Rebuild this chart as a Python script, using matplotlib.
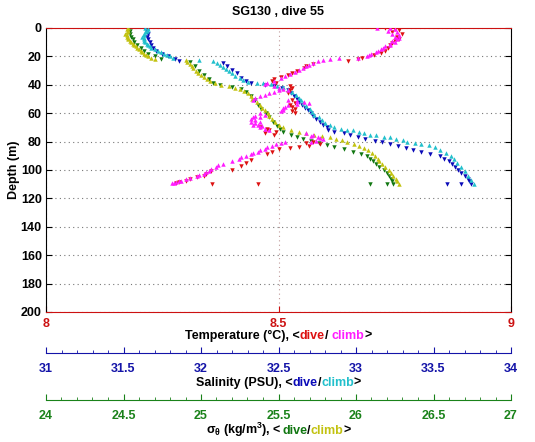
"""Seaglider profile plot: temperature, salinity and sigma-theta vs depth."""

import matplotlib
matplotlib.use("Agg")
import matplotlib.pyplot as plt
from matplotlib.ticker import MultipleLocator
from matplotlib.offsetbox import TextArea, HPacker, AnchoredOffsetbox

# ---------------- DATA ----------------
TITLE = "SG130 , dive 55"

temp_ticks = [8, 8.5, 9]
temp_ticklabels = ["8", "8.5", "9"]
depth_ticks = list(range(0, 201, 20))

# temperature, dive (red)
dive_t_depth = [0, 0.5, 1.5, 3, 4.5, 6, 7.5, 9, 10.5, 12, 14, 16, 17.5, 19, 21, 22, 23,
                25, 26.5, 28, 30, 31.5, 33, 34.5, 36, 37.5, 38.5, 41, 42.5, 44, 45.5,
                51, 52.5, 54, 55.5, 57, 58.5, 60, 70, 71, 72, 73, 74, 75,
                80, 81, 82, 83, 84, 84.5, 85.5, 87, 88.5, 93, 95, 97, 100,
                101, 102.5, 104, 105, 106.5, 107.5, 108.5, 109.5, 110, 110]
dive_t = [8.73, 8.75, 8.76, 8.745, 8.765, 8.755, 8.76, 8.75, 8.745, 8.74, 8.735, 8.73, 8.72, 8.705, 8.68, 8.67, 8.65,
          8.575, 8.56, 8.555, 8.54, 8.53, 8.52, 8.505, 8.49, 8.485, 8.495, 8.525, 8.53, 8.525, 8.52,
          8.53, 8.535, 8.525, 8.53, 8.535, 8.53, 8.535, 8.46, 8.475, 8.48, 8.495, 8.47, 8.49,
          8.575, 8.56, 8.59, 8.565, 8.545, 8.525, 8.50, 8.485, 8.475, 8.44, 8.43, 8.42, 8.40,
          8.355, 8.345, 8.34, 8.325, 8.31, 8.30, 8.285, 8.28, 8.357, 8.456]

# temperature, climb (magenta)
climb_t_depth = [0, 0, 1, 2, 3, 4, 5, 6, 7, 8, 9, 10, 11, 12, 13, 14, 15, 16, 17, 18, 19, 20, 21, 21, 22,
                 22.5, 23.5, 24.5, 26, 27, 28, 29.5, 31, 32.5, 34, 35.5, 37, 38.5, 39.5, 40.5, 42, 43.5,
                 43, 44, 45, 46, 47, 48, 49.5, 50.5,
                 51, 51.5, 52, 52.5, 53.5, 54.5, 55.5, 56.5, 57.5, 58.5,
                 60, 61, 62, 62.5, 63, 64, 65, 66, 66.5, 67, 68, 68.5, 69, 70, 71, 72,
                 74, 75, 76, 76.5, 77.5, 78.5, 79.5, 80.5,
                 80, 81, 82, 83, 84, 85, 86, 87, 88, 89, 90, 91, 92, 93.5, 95.5, 96.5, 98, 99.5,
                 100.5, 101.5, 102.5, 103.5, 104.5, 105.5, 106.5, 107.5, 108, 108.5, 109, 109.5]
climb_t = [8.712, 8.74, 8.75, 8.735, 8.755, 8.745, 8.76, 8.75, 8.76, 8.755, 8.745, 8.75, 8.74, 8.74, 8.73,
           8.725, 8.72, 8.715, 8.71, 8.70, 8.695, 8.69, 8.67, 8.63, 8.61,
           8.596, 8.585, 8.574, 8.565, 8.56, 8.553, 8.545, 8.535, 8.525, 8.515, 8.505, 8.49, 8.475, 8.47, 8.49, 8.50, 8.52,
           8.51, 8.50, 8.49, 8.48, 8.47, 8.46, 8.45, 8.445,
           8.52, 8.54, 8.555, 8.565, 8.54, 8.52, 8.515, 8.51, 8.51, 8.505,
           8.46, 8.47, 8.45, 8.46, 8.445, 8.44, 8.45, 8.46, 8.44, 8.45, 8.455, 8.445, 8.465, 8.46, 8.47, 8.48,
           8.56, 8.575, 8.57, 8.585, 8.59, 8.595, 8.58, 8.57,
           8.515, 8.505, 8.495, 8.485, 8.475, 8.47, 8.46, 8.455, 8.445, 8.44, 8.43, 8.42, 8.415, 8.40, 8.38, 8.37,
           8.365, 8.355, 8.35, 8.345, 8.34, 8.33, 8.325, 8.31, 8.30, 8.29, 8.285, 8.28, 8.27, 8.275]

# salinity, dive (blue)
dive_s_depth = [0, 2, 4, 6, 8, 10, 12, 14, 16, 18, 20, 22, 23,
                24.5, 27, 29.5, 32, 35, 37, 38.5, 40, 41, 42.5, 44, 46, 48, 50, 52, 54, 56, 58, 60,
                62, 64, 66, 68, 70, 72, 73, 74, 75, 76.5, 78, 79.5, 80.5, 81.5, 83, 84.5, 86,
                87.5, 88.5, 90, 92, 94, 96, 98, 100, 102, 104, 106, 108, 110, 110, 110]
dive_s = [31.64, 31.65, 31.66, 31.65, 31.66, 31.67, 31.68, 31.69, 31.71, 31.75, 31.79, 31.83, 31.86,
          32.14, 32.17, 32.20, 32.23, 32.26, 32.29, 32.32, 32.41, 32.47, 32.52, 32.56, 32.58, 32.60,
          32.62, 32.635, 32.65, 32.67, 32.69, 32.71,
          32.72, 32.74, 32.77, 32.79, 32.81, 32.82, 32.86, 32.92, 32.96, 33.01, 33.06, 33.12, 33.17,
          33.22, 33.27, 33.32, 33.37,
          33.42, 33.48, 33.54, 33.57, 33.60, 33.62, 33.64, 33.66, 33.68, 33.70, 33.72, 33.73, 33.74,
          33.59, 33.68]

# salinity, climb (cyan)
climb_s_depth = [0, 1, 2, 3, 4, 5, 6, 7, 8, 9, 10, 11, 12, 13, 14, 15, 16, 17, 18, 19, 20, 21,
                 22.5, 23, 24.5, 26, 27.5, 29, 30.5, 32, 33.5, 35, 36.5, 38, 38.5, 39, 39.5, 40.5,
                 41.5, 43, 45, 47, 49, 51, 53, 55, 57, 59, 61, 63, 65, 67, 68.5,
                 70, 71, 71.5, 72, 73, 74, 75, 75.5, 76.5, 77, 78, 79, 80, 81, 81.5, 82.5, 84,
                 86, 88, 90, 92, 95, 98, 101, 104, 107, 110]
climb_s = [31.64, 31.66, 31.65, 31.64, 31.63, 31.63, 31.62, 31.63, 31.63, 31.63, 31.64, 31.65,
           31.66, 31.67, 31.68, 31.70, 31.72, 31.74, 31.76, 31.78, 31.80, 31.82,
           31.99, 32.08, 32.10, 32.12, 32.14, 32.16, 32.18, 32.20, 32.22, 32.25, 32.27, 32.30,
           32.36, 32.40, 32.45, 32.49,
           32.53, 32.56, 32.59, 32.61, 32.63, 32.645, 32.66, 32.68, 32.70, 32.715, 32.73, 32.76,
           32.78, 32.80, 32.83,
           32.86, 32.90, 32.94, 32.98, 33.02, 33.05, 33.09, 33.13, 33.18, 33.22, 33.26, 33.30,
           33.33, 33.38, 33.42, 33.47, 33.51,
           33.54, 33.58, 33.61, 33.63, 33.65, 33.68, 33.70, 33.72, 33.74, 33.76]

# sigma-theta, dive (green)
dive_sig_depth = [0, 2, 4, 6, 8, 10, 12, 14, 16, 18, 20, 21.5,
                  24, 27, 30, 33, 36, 38.5, 40, 41.5, 43, 45, 48, 51, 54, 57, 60, 63, 66, 69,
                  71, 73, 75, 76.5, 78, 79.5, 81, 82.5, 84, 85.5, 87, 88.5, 90, 92, 94, 96, 98,
                  100, 102, 104, 106, 108, 110, 110, 110]
dive_sig = [24.53, 24.54, 24.54, 24.55, 24.56, 24.57, 24.59, 24.61, 24.63, 24.66, 24.70, 24.74,
            24.93, 24.96, 24.99, 25.02, 25.05, 25.08, 25.12, 25.20, 25.26, 25.29, 25.32, 25.35,
            25.37, 25.39, 25.42, 25.44, 25.465, 25.49,
            25.51, 25.53, 25.58, 25.62, 25.66, 25.71, 25.76, 25.81, 25.86, 25.92, 25.98, 26.03,
            26.07, 26.09, 26.11, 26.13, 26.15,
            26.18, 26.20, 26.21, 26.225, 26.235, 26.24, 26.09, 26.20]

# sigma-theta, climb (olive)
climb_sig_depth = [0, 1, 2, 3, 4, 5, 6, 7, 8, 9, 10, 11, 12, 13, 14, 15, 16, 17, 18, 19, 20, 21, 21.5,
                   22.5, 24, 25.5, 27, 28.5, 30, 31.5, 33, 34.5, 36, 37.5, 39, 40, 41, 42, 43, 44.5,
                   46, 48, 50, 52, 54, 56, 58, 60, 62, 64, 66, 68, 70, 72, 73, 74, 75, 76, 77, 78,
                   79, 80, 81.5, 83, 84.5, 86, 88, 90, 92, 94, 96, 98, 100, 102, 104, 106, 108, 110]
climb_sig = [24.53, 24.52, 24.53, 24.52, 24.51, 24.52, 24.52, 24.53, 24.53, 24.54, 24.55, 24.56,
             24.57, 24.58, 24.59, 24.60, 24.61, 24.62, 24.63, 24.645, 24.66, 24.68, 24.70,
             24.90, 24.91, 24.93, 24.94, 24.95, 24.97, 24.98, 25.00, 25.02, 25.04, 25.06, 25.09,
             25.13, 25.18, 25.22, 25.25, 25.28,
             25.30, 25.32, 25.33, 25.36, 25.38, 25.395, 25.41, 25.43, 25.44, 25.46, 25.48, 25.50,
             25.53, 25.58, 25.63, 25.68, 25.73, 25.78, 25.83, 25.87,
             25.91, 25.94, 25.99, 26.02, 26.05, 26.08, 26.10, 26.12, 26.14, 26.15, 26.17, 26.19,
             26.21, 26.225, 26.24, 26.255, 26.265, 26.275]
# ---------------------------------------------------------------

# ---------------- STYLE ----------------
FONT = "Liberation Sans"
FS = 9
RED, MAGENTA = "#dd1111", "#ff1cff"
BLUE, CYAN = "#0a0ab8", "#22c0cc"
GREEN, OLIVE = "#117711", "#c2c210"
AX_RED, AX_BLUE, AX_GREEN = "#cc1111", "#1414a8", "#1a821a"

plt.rcParams["font.family"] = [FONT, "DejaVu Sans"]
plt.rcParams["font.weight"] = "bold"
plt.rcParams["mathtext.fontset"] = "custom"
plt.rcParams["mathtext.rm"] = "Liberation Sans:bold"
plt.rcParams["mathtext.it"] = "Liberation Sans:bold"
plt.rcParams["mathtext.bf"] = "Liberation Sans:bold"

W, H = 535, 442
L, R, T, B = 46, 511, 28, 312


def color_label(fig, y, parts):
    """Centered label made of differently coloured pieces."""
    boxes = [TextArea(s, textprops=dict(color=c, fontsize=FS, fontweight="bold"))
             for s, c in parts]
    pack = HPacker(children=boxes, align="baseline", pad=0, sep=0)
    xc = (L + R) / 2 / W
    ab = AnchoredOffsetbox(loc="center", child=pack, frameon=False, pad=0, borderpad=0,
                           bbox_to_anchor=(xc, 1 - y / H), bbox_transform=fig.transFigure)
    fig.add_artist(ab)


def bottom_ruler(ax, lim, color, offset_px):
    """Twin x-axis shown as a coloured ruler below the main axes."""
    tw = ax.twiny()
    tw.set_xlim(*lim)
    tw.xaxis.set_ticks_position("bottom")
    tw.xaxis.set_label_position("bottom")
    for name, sp in tw.spines.items():
        sp.set_visible(name == "bottom")
    tw.spines["bottom"].set_position(("outward", offset_px * 72 / 100))
    tw.spines["bottom"].set_color(color)
    tw.xaxis.set_major_locator(MultipleLocator(0.5))
    tw.xaxis.set_minor_locator(MultipleLocator(0.1))
    tw.xaxis.set_major_formatter(plt.FuncFormatter(lambda v, p: f"{v:g}"))
    tw.tick_params(axis="x", which="major", direction="in", length=4, color=color,
                   labelcolor=color, labelsize=FS, pad=7.5)
    tw.tick_params(axis="x", which="minor", direction="in", length=2, color=color)
    return tw


fig = plt.figure(figsize=(W / 100, H / 100), dpi=100)
ax = fig.add_axes([L / W, 1 - B / H, (R - L) / W, (B - T) / H])

ax.set_xlim(8, 9)
ax.set_ylim(200, 0)
ax.set_xticks(temp_ticks)
ax.set_xticklabels(temp_ticklabels)
ax.set_yticks(depth_ticks)
ax.tick_params(axis="x", direction="in", top=True, length=4, colors=AX_RED, labelsize=FS, pad=4.5)
ax.tick_params(axis="y", direction="in", right=True, length=4, labelsize=FS, pad=3)
ax.spines["top"].set_color(AX_RED)
ax.spines["bottom"].set_color(AX_RED)
ax.yaxis.grid(True, linestyle=(0, (1, 3)), color="#777777", linewidth=0.8)
ax.xaxis.grid(True, linestyle=(0, (1, 3)), color="#c09a9a", linewidth=0.8)
ax.set_axisbelow(True)
ax.set_ylabel("Depth (m)", fontsize=FS, fontweight="bold", labelpad=0.5)
fig.text((L + R) / 2 / W, 1 - 12 / H, TITLE, fontsize=FS, fontweight="bold",
         ha="center", va="center")

ax_s = bottom_ruler(ax, (31, 34), AX_BLUE, 41)
ax_g = bottom_ruler(ax, (24, 27), AX_GREEN, 88)

mk = dict(linestyle="none", markersize=3.2, markeredgewidth=0)
ax_g.plot(dive_sig, dive_sig_depth, "v", color=GREEN, **mk)
ax_g.plot(climb_sig, climb_sig_depth, "^", color=OLIVE, **mk)
ax_s.plot(dive_s, dive_s_depth, "v", color=BLUE, **mk)
ax_s.plot(climb_s, climb_s_depth, "^", color=CYAN, **mk)
ax_t = ax.twiny()
ax_t.set_xlim(8, 9)
ax_t.axis("off")
ax_t.plot(dive_t, dive_t_depth, "v", color=RED, **mk)
ax_t.plot(climb_t, climb_t_depth, "^", color=MAGENTA, **mk)

color_label(fig, 336, [("Temperature (°C), <", "black"), ("dive", RED), ("/ ", "black"),
                       ("climb", MAGENTA), (">", "black")])
color_label(fig, 383, [("Salinity (PSU), <", "black"), ("dive", BLUE), ("/", "black"),
                       ("climb", CYAN), (">", "black")])
color_label(fig, 430, [(r"$\sigma_\theta$ (kg/m$^3$), <", "black"), ("dive", GREEN), ("/", "black"),
                       ("climb", OLIVE), (">", "black")])

fig.savefig("out.png", dpi=100)
